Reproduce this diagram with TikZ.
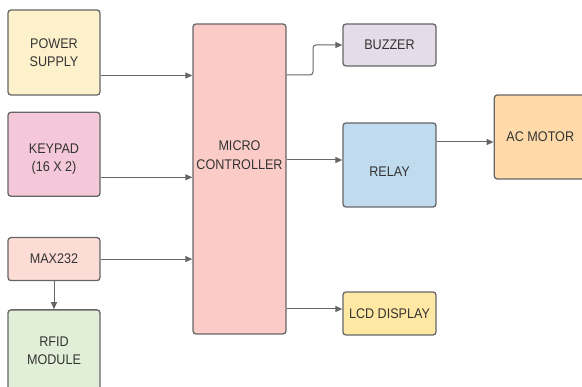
\documentclass[tikz,border=0pt]{standalone}
\usepackage{fontspec}
\setmainfont{Liberation Sans}[FakeStretch=0.9]
\usepackage{xcolor}
\usetikzlibrary{positioning,arrows.meta}

\definecolor{edge}{HTML}{666666}
\definecolor{ink}{HTML}{333333}
\definecolor{pwrfill}{HTML}{FDF1CB}
\definecolor{keyfill}{HTML}{F4C8D8}
\definecolor{maxfill}{HTML}{FDDCD6}
\definecolor{rfidfill}{HTML}{E2EFD8}
\definecolor{mcufill}{HTML}{FBCCC7}
\definecolor{buzfill}{HTML}{E6DCE9}
\definecolor{relfill}{HTML}{C0DAEE}
\definecolor{motfill}{HTML}{FDDAA8}
\definecolor{lcdfill}{HTML}{FFE8A3}

\begin{document}
\begin{tikzpicture}[
x=1pt,y=1pt,
box/.style={
rectangle,draw=edge,line width=1.3pt,rounded corners=3pt,
align=center,text=ink,
font=\fontsize{14}{18.5}\selectfont,
minimum width=92pt,
inner sep=0pt
},
txt/.style={text=ink,align=center,font=\fontsize{14}{18.5}\selectfont},
arrow/.style={-{Triangle[length=7pt,width=6pt]},draw=edge,line width=1pt}
]
\useasboundingbox (0,0) rectangle (582,-387);

% left column
\node[box,fill=pwrfill,minimum height=85pt] (power) at (54,-52.5) {POWER\\SUPPLY};
\node[box,fill=keyfill,minimum height=84pt,below=16pt of power,
  label={[txt,yshift=-5pt]center:KEYPAD\\(16 X 2)}] (keypad) {};
\node[box,fill=maxfill,minimum height=43pt,below=40pt of keypad] (max) {MAX232};
\node[box,fill=rfidfill,minimum height=82pt,below=28pt of max] (rfid) {RFID\\MODULE};

% controller
\node[box,fill=mcufill,minimum width=93pt,minimum height=310pt,
  label={[txt,yshift=24pt]center:MICRO\\CONTROLLER}] (micro) at (239.5,-179) {};

% right column
\node[box,fill=buzfill,minimum width=93pt,minimum height=42pt] (buzzer) at (389.5,-45) {BUZZER};
\node[box,fill=relfill,minimum width=93pt,minimum height=84pt,
  label={[txt,yshift=-7pt]center:RELAY}] (relay) at (389.5,-165) {};
\node[box,fill=lcdfill,minimum width=93pt,minimum height=43pt] (lcd) at (389.5,-313.5) {LCD DISPLAY};
\node[box,fill=motfill,minimum height=84pt,right=57pt of relay.east,yshift=28pt] (motor) {AC MOTOR};

% connection points
\coordinate (pwrout) at ([yshift=-23pt]power.east);
\coordinate (keyout) at ([yshift=-23pt]keypad.east);
\coordinate (mcubuz) at ([yshift=104pt]micro.east);
\coordinate (mcurel) at ([yshift=19pt]micro.east);
\coordinate (mculcd) at ([yshift=-130pt]micro.east);
\coordinate (relout) at ([yshift=23pt]relay.east);
\coordinate (bend) at (313,0);

\draw[arrow] (pwrout) -- (pwrout -| micro.west);
\draw[arrow] (keyout) -- (keyout -| micro.west);
\draw[arrow] (max.east) -- (max.east -| micro.west);
\draw[arrow] (max.south) -- (rfid.north);
\draw[arrow,rounded corners=3pt] (mcubuz) -- (mcubuz -| bend) -- (bend |- buzzer.west) -- (buzzer.west);
\draw[arrow] (mcurel) -- (mcurel -| relay.west);
\draw[arrow] (relout) -- (relout -| motor.west);
\draw[arrow] (mculcd) -- (mculcd -| lcd.west);

\end{tikzpicture}
\end{document}
